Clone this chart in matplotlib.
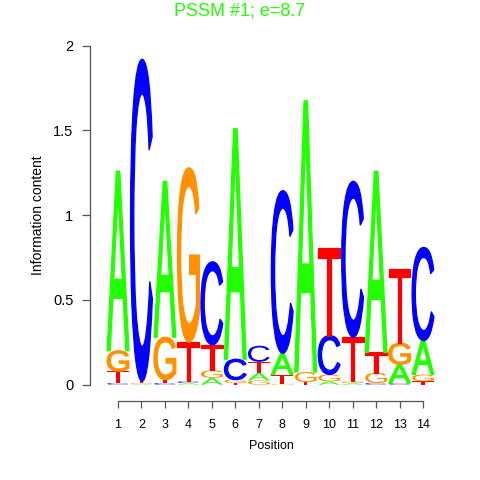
import matplotlib
matplotlib.use("Agg")
import matplotlib.pyplot as plt
from matplotlib.textpath import TextPath
from matplotlib.font_manager import FontProperties
from matplotlib.patches import PathPatch
from matplotlib.transforms import Affine2D
import numpy as np

positions = list(range(1, 15))
letters = ["A", "C", "G", "T"]
A = [1.06, 0.005, 0.92, 0.01, 0.04, 1.36, 0.045, 0.125, 1.60, 0.02, 0.01, 1.07, 0.11, 0.20]
C = [0.01, 1.90, 0.01, 0.01, 0.49, 0.12, 0.095, 0.96, 0.0, 0.23, 0.92, 0.01, 0.01, 0.55]
G = [0.12, 0.005, 0.25, 1.03, 0.045, 0.02, 0.025, 0.005, 0.06, 0.04, 0.01, 0.06, 0.125, 0.04]
T = [0.07, 0.01, 0.02, 0.23, 0.15, 0.01, 0.065, 0.055, 0.015, 0.515, 0.26, 0.12, 0.44, 0.02]
heights = {"A": A, "C": C, "G": G, "T": T}
colors = {"A": "#22FF00", "C": "#0000FF", "G": "#FF9100", "T": "#FF0000"}
yticks = [0, 0.5, 1, 1.5, 2]
ytick_labels = ["0", "0.5", "1", "1.5", "2"]
title = "PSSM #1; e=8.7"

W, H = 480, 480
fig = plt.figure(figsize=(W / 100, H / 100), dpi=100)
x1px, x14px = 118.0, 423.0
unitx = (x14px - x1px) / 13
y0px, y2px = 384.7, 45.7
unity = (y0px - y2px) / 2
left_px, right_px, bottom_px, top_px = 90.0, 452.0, 401.0, 40.0
ax = fig.add_axes([left_px / W, 1 - bottom_px / H, (right_px - left_px) / W, (bottom_px - top_px) / H])
ax.set_xlim(1 + (left_px - x1px) / unitx, 1 + (right_px - x1px) / unitx)
ax.set_ylim(-(bottom_px - y0px) / unity, 2 + (y2px - top_px) / unity)

fp = FontProperties(family="Liberation Sans", weight="normal")
glyphs = {}
for L in letters:
    tp = TextPath((0, 0), L, size=1, prop=fp)
    bb = tp.get_extents()
    glyphs[L] = (tp, bb)

lw = 0.93
for i, pos in enumerate(positions):
    col = sorted(letters, key=lambda L: heights[L][i])
    base = 0.0
    for L in col:
        h = heights[L][i]
        if h <= 0:
            continue
        tp, bb = glyphs[L]
        tr = (Affine2D().translate(-bb.x0, -bb.y0)
              .scale(lw / bb.width, h / bb.height)
              .translate(pos - lw / 2, base))
        path = tr.transform_path(tp)
        edge = 0.9 if h > 0.1 else 0.0
        ax.add_patch(PathPatch(path, facecolor=colors[L], edgecolor=colors[L],
                               linewidth=edge, joinstyle="miter"))
        base += h

for s in ["top", "right"]:
    ax.spines[s].set_visible(False)
ax.spines["left"].set_bounds(0, 2)
ax.spines["bottom"].set_bounds(1, 14)
for s in ["left", "bottom"]:
    ax.spines[s].set_color("#555555")
    ax.spines[s].set_linewidth(0.9)
ax.set_yticks(yticks)
ax.set_yticklabels(ytick_labels, fontsize=10.5, family="Liberation Sans")
ax.set_xticks(positions)
ax.set_xticklabels([str(p) for p in positions], fontsize=9, family="Liberation Sans")
ax.tick_params(axis="y", length=6, width=0.9, color="#555555", pad=6)
ax.tick_params(axis="x", length=5, width=0.9, color="#555555", pad=8)

fig.text(271 / W, 1 - 446 / H, "Position", ha="center", va="center", fontsize=9, family="Liberation Sans")
fig.text(38 / W, 1 - 215 / H, "Information content", ha="center", va="center", rotation=90,
         fontsize=10, family="Liberation Sans")
fig.text(240 / W, 1 - 15 / H, title, ha="center", va="baseline", fontsize=13,
         color="#22FF00", family="Liberation Sans")

fig.savefig("out.png", dpi=100)
